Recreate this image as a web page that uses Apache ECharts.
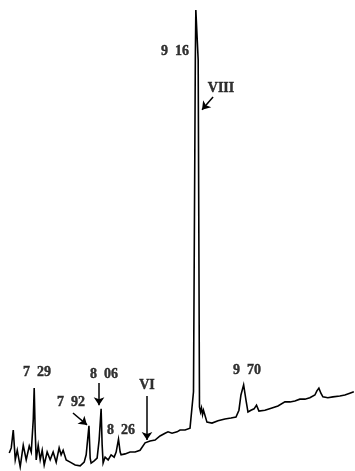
<!DOCTYPE html>
<html>
<head>
<meta charset="utf-8">
<script src="https://cdn.jsdelivr.net/npm/echarts@6/dist/echarts.min.js"></script>
<style>
  html, body { margin: 0; padding: 0; background: #fff; }
  #chart { width: 355px; height: 471px; }
</style>
</head>
<body>
<div id="chart"></div>
<script>
// Retention time (min) of each sampled point of the trace
const retentionTime = [
  7.003, 7.026, 7.049, 7.072, 7.095, 7.129, 7.164, 7.198, 7.233, 7.256,
  7.279, 7.290, 7.301, 7.313, 7.336, 7.359, 7.382, 7.405, 7.439, 7.474,
  7.508, 7.543, 7.577, 7.600, 7.623, 7.658, 7.704, 7.761, 7.819, 7.865,
  7.888, 7.920, 7.934, 7.945, 7.980, 8.014, 8.037, 8.060, 8.072, 8.083,
  8.106, 8.141, 8.175, 8.210, 8.233, 8.260, 8.279, 8.290, 8.336, 8.393,
  8.451, 8.508, 8.566, 8.623, 8.681, 8.738, 8.796, 8.830, 8.876, 8.934,
  8.968, 9.026, 9.083, 9.106, 9.123, 9.144, 9.150, 9.170, 9.177, 9.192,
  9.204, 9.215, 9.227, 9.238, 9.278, 9.336, 9.405, 9.485, 9.554, 9.612,
  9.646, 9.669, 9.700, 9.727, 9.750, 9.784, 9.820, 9.848, 9.876, 9.945,
  10.026, 10.095, 10.175, 10.233, 10.290, 10.347, 10.405, 10.462, 10.520, 10.543,
  10.566, 10.589, 10.612, 10.669, 10.727, 10.807, 10.865, 10.922, 10.968
];

// Detector response (relative abundance, %) at each retention time
const abundance = [
  3.7, 4.8, 8.7, 2.2, 4.3, 0.7, 5.4, 2.2, 5.2, 3.9,
  10.9, 17.8, 8.7, 2.2, 5.4, 2.2, 4.3, 1.1, 3.9, 2.2,
  3.9, 1.7, 4.8, 3.3, 4.3, 2.2, 1.7, 1.1, 0.9, 1.7,
  3.3, 9.6, 2.6, 1.5, 2.0, 2.6, 6.5, 13.3, 5.4, 1.5,
  2.8, 2.2, 3.3, 2.8, 3.9, 6.7, 3.9, 3.3, 3.5, 3.9,
  3.9, 4.3, 5.9, 6.3, 6.5, 7.4, 8.0, 8.3, 8.0, 8.3,
  8.7, 8.7, 9.1, 9.3, 17.0, 89.1, 100.0, 100.0, 89.1, 13.7,
  12.6, 13.5, 12.0, 13.0, 10.4, 10.2, 10.7, 11.1, 11.3, 11.5,
  13.0, 16.3, 18.5, 15.2, 12.6, 13.0, 13.3, 14.1, 12.8, 13.0,
  13.5, 13.9, 14.8, 14.8, 15.0, 15.4, 15.4, 15.7, 16.3, 17.2,
  17.8, 16.7, 15.9, 15.7, 15.9, 16.1, 16.3, 16.7, 17.0
];

// Peak annotations: text and its anchor [retention time, abundance]
const labelTexts = ['7\u200229', '7\u200292', '8\u200206', '8\u200226', 'VI', '9\u200216', 'VIII', '9\u200270'];
const labelAnchors = [
  [7.322, 21.3], [7.713, 14.6], [8.093, 20.7], [8.289, 8.7],
  [8.588, 18.5], [8.910, 90.9], [9.440, 83.0], [9.739, 21.7]
];

// Arrows pointing at peaks: [from, to] in [retention time, abundance]
const arrows = [
  [[7.736, 12.4], [7.898, 9.8]],
  [[8.036, 18.9], [8.036, 14.1]],
  [[8.588, 16.1], [8.588, 6.5]],
  [[9.348, 81.1], [9.221, 78.3]]
];

const trace = retentionTime.map((t, i) => [t, abundance[i]]);
const labels = labelAnchors.map((p, i) => [p[0], p[1], labelTexts[i]]);

const chart = echarts.init(document.getElementById('chart'), null, { renderer: 'canvas' });
chart.setOption({
  animation: false,
  backgroundColor: '#ffffff',
  grid: { left: 9, right: 1, top: 10, bottom: 1 },
  xAxis: { type: 'value', min: 7.0, max: 10.97, show: false },
  yAxis: { type: 'value', min: 0, max: 100, show: false },
  series: [
    {
      type: 'line',
      data: trace,
      showSymbol: false,
      smooth: false,
      lineStyle: { color: '#000', width: 1.6, join: 'miter' },
      emphasis: { disabled: true },
      markLine: {
        silent: true,
        symbol: ['none', 'arrow'],
        symbolSize: 8,
        label: { show: false },
        lineStyle: { color: '#000', width: 1.5, type: 'solid' },
        itemStyle: { color: '#000' },
        emphasis: { disabled: true },
        data: arrows.map(a => [{ coord: a[0] }, { coord: a[1] }])
      }
    },
    {
      type: 'scatter',
      data: labels,
      symbolSize: 0,
      silent: true,
      label: {
        show: true,
        position: 'inside',
        formatter: p => p.data[2],
        color: '#000',
        fontFamily: '"Liberation Serif", "DejaVu Serif", serif',
        fontWeight: 'bold',
        fontSize: 14,
        textBorderColor: '#000',
        textBorderWidth: 0.4
      },
      emphasis: { disabled: true }
    }
  ]
});
</script>
</body>
</html>
